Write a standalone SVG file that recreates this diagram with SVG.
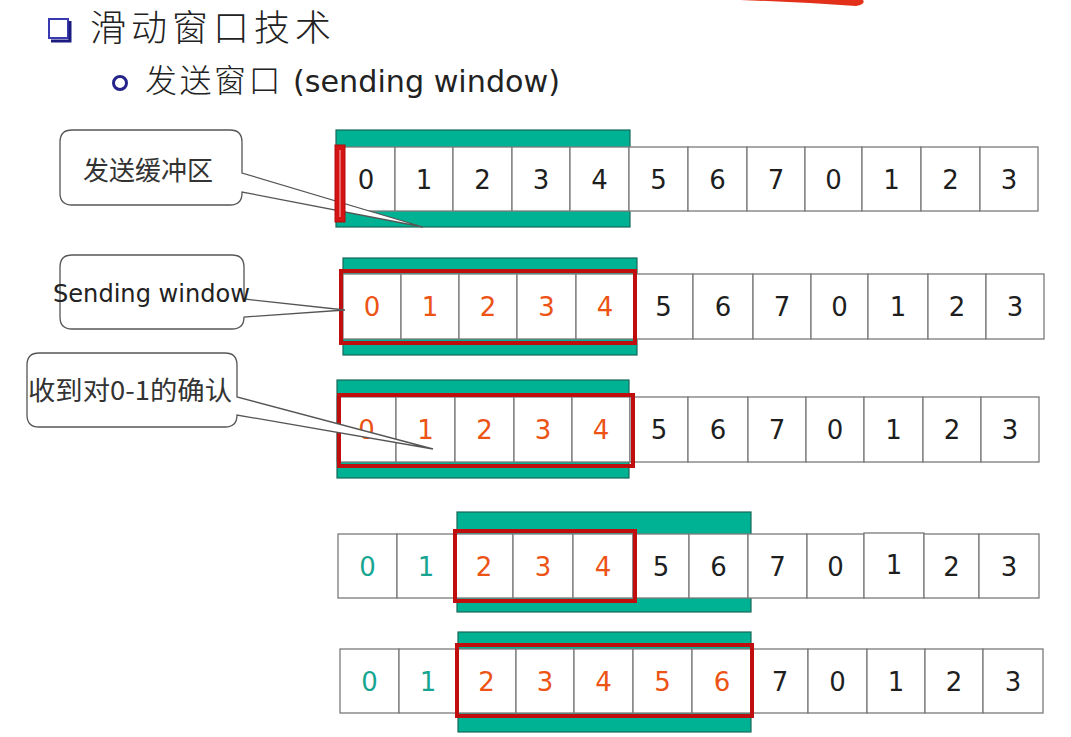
<svg xmlns="http://www.w3.org/2000/svg" width="1071" height="737" viewBox="0 0 1071 737">
<style>
.cell{fill:#fff;stroke:#7a7a7a;stroke-width:1.3}
.teal{fill:#00b294;stroke:#17695a;stroke-width:1.2}
.win{fill:none;stroke:#c00d0d;stroke-width:4}
.d{font-family:"DejaVu Sans","Liberation Sans",sans-serif;font-size:26px;text-anchor:middle}
.k{fill:#1e1e1e}
.o{fill:#ec5314}
.t{fill:#17a591}
.call{fill:#fff;stroke:#555;stroke-width:1.3}
.ct{font-family:"Noto Sans CJK SC","DejaVu Sans",sans-serif;font-size:26px;fill:#333}
.title{font-family:"Noto Sans CJK SC",sans-serif;fill:#222;font-weight:300}
</style>
<rect width="1071" height="737" fill="#fff"/>
<path d="M740,0 Q800,2 856,6 Q866,4 863,0 Z" fill="#e3301a"/>

<g id="title">
<rect x="49" y="19" width="19" height="19" fill="#fff" stroke="#3a3ab0" stroke-width="2"/>
<path d="M70,21 V41 H51" fill="none" stroke="#1c1c80" stroke-width="3"/>
<text class="title" x="90" y="41" font-size="36" letter-spacing="5">滑动窗口技术</text>
</g>
<g id="subtitle">
<circle cx="120" cy="83" r="6.5" fill="#fff" stroke="#23238a" stroke-width="3"/>
<text class="title" x="145" y="92" font-size="32" letter-spacing="2.5">发送窗口</text>
<text x="293" y="92" font-family="DejaVu Sans,sans-serif" font-size="30" fill="#222" textLength="267" lengthAdjust="spacingAndGlyphs">(sending window)</text>
</g>

<g id="row1">
<rect class="teal" x="336" y="130" width="294" height="97"/>
<rect class="cell" x="337" y="147" width="58" height="64"/><rect class="cell" x="395" y="147" width="58" height="64"/><rect class="cell" x="453" y="147" width="59" height="64"/><rect class="cell" x="512" y="147" width="58" height="64"/><rect class="cell" x="570" y="147" width="59" height="64"/><rect class="cell" x="629" y="147" width="59" height="64"/><rect class="cell" x="688" y="147" width="59" height="64"/><rect class="cell" x="747" y="147" width="58" height="64"/><rect class="cell" x="805" y="147" width="57" height="64"/><rect class="cell" x="862" y="147" width="59" height="64"/><rect class="cell" x="921" y="147" width="59" height="64"/><rect class="cell" x="980" y="147" width="58" height="64"/>
<g class="d k">
<text x="366" y="189">0</text><text x="424" y="189">1</text><text x="482.5" y="189">2</text><text x="541" y="189">3</text><text x="599.5" y="189">4</text><text x="658.5" y="189">5</text><text x="717.5" y="189">6</text><text x="776" y="189">7</text><text x="833.5" y="189">0</text><text x="891.5" y="189">1</text><text x="950.5" y="189">2</text><text x="1009" y="189">3</text>
</g>
</g>

<g id="row2">
<rect class="teal" x="343" y="258" width="294" height="97"/>
<rect class="cell" x="343" y="274" width="58" height="65"/><rect class="cell" x="401" y="274" width="58" height="65"/><rect class="cell" x="459" y="274" width="58" height="65"/><rect class="cell" x="517" y="274" width="59" height="65"/><rect class="cell" x="576" y="274" width="58" height="65"/><rect class="cell" x="634" y="274" width="59" height="65"/><rect class="cell" x="693" y="274" width="60" height="65"/><rect class="cell" x="753" y="274" width="58" height="65"/><rect class="cell" x="811" y="274" width="57" height="65"/><rect class="cell" x="868" y="274" width="60" height="65"/><rect class="cell" x="928" y="274" width="58" height="65"/><rect class="cell" x="986" y="274" width="58" height="65"/>
<g class="d o">
<text x="372" y="316">0</text><text x="430" y="316">1</text><text x="488" y="316">2</text><text x="546.5" y="316">3</text><text x="605" y="316">4</text>
</g>
<g class="d k">
<text x="663.5" y="316">5</text><text x="723" y="316">6</text><text x="782" y="316">7</text><text x="839.5" y="316">0</text><text x="898" y="316">1</text><text x="957" y="316">2</text><text x="1015" y="316">3</text>
</g>
<rect class="win" x="341" y="271" width="294" height="72"/>
</g>

<g id="row3">
<rect class="teal" x="337" y="380" width="292" height="98"/>
<rect class="cell" x="337" y="397" width="59" height="65"/><rect class="cell" x="396" y="397" width="59" height="65"/><rect class="cell" x="455" y="397" width="59" height="65"/><rect class="cell" x="514" y="397" width="58" height="65"/><rect class="cell" x="572" y="397" width="58" height="65"/><rect class="cell" x="630" y="397" width="58" height="65"/><rect class="cell" x="688" y="397" width="60" height="65"/><rect class="cell" x="748" y="397" width="58" height="65"/><rect class="cell" x="806" y="397" width="58" height="65"/><rect class="cell" x="864" y="397" width="59" height="65"/><rect class="cell" x="923" y="397" width="58" height="65"/><rect class="cell" x="981" y="397" width="58" height="65"/>
<g class="d o">
<text x="366.5" y="439">0</text><text x="425.5" y="439">1</text><text x="484.5" y="439">2</text><text x="543" y="439">3</text><text x="601" y="439">4</text>
</g>
<g class="d k">
<text x="659" y="439">5</text><text x="718" y="439">6</text><text x="777" y="439">7</text><text x="835" y="439">0</text><text x="893.5" y="439">1</text><text x="952" y="439">2</text><text x="1010" y="439">3</text>
</g>
<rect class="win" x="339" y="395" width="294" height="71"/>
</g>

<g id="row4">
<rect class="teal" x="457" y="512" width="294" height="100"/>
<rect class="cell" x="338" y="534" width="59" height="64"/><rect class="cell" x="397" y="534" width="58" height="64"/><rect class="cell" x="455" y="534" width="58" height="64"/><rect class="cell" x="513" y="534" width="60" height="64"/><rect class="cell" x="573" y="534" width="60" height="64"/><rect class="cell" x="633" y="534" width="56" height="64"/><rect class="cell" x="689" y="534" width="59" height="64"/><rect class="cell" x="748" y="534" width="59" height="64"/><rect class="cell" x="807" y="534" width="57" height="64"/><rect class="cell" x="864" y="533" width="60" height="65"/><rect class="cell" x="924" y="534" width="55" height="64"/><rect class="cell" x="979" y="534" width="60" height="64"/>
<g class="d t"><text x="367.5" y="576">0</text><text x="426" y="576">1</text></g>
<g class="d o"><text x="484" y="576">2</text><text x="543" y="576">3</text><text x="603" y="576">4</text></g>
<g class="d k">
<text x="661" y="576">5</text><text x="718.5" y="576">6</text><text x="777.5" y="576">7</text><text x="835.5" y="576">0</text><text x="894" y="574">1</text><text x="951.5" y="576">2</text><text x="1009" y="576">3</text>
</g>
<rect class="win" x="455" y="531" width="180" height="70"/>
</g>

<g id="row5">
<rect class="teal" x="458" y="632" width="293" height="100"/>
<rect class="cell" x="340" y="649" width="59" height="64"/><rect class="cell" x="399" y="649" width="58" height="64"/><rect class="cell" x="457" y="649" width="59" height="64"/><rect class="cell" x="516" y="649" width="58" height="64"/><rect class="cell" x="574" y="649" width="59" height="64"/><rect class="cell" x="633" y="649" width="59" height="64"/><rect class="cell" x="692" y="649" width="60" height="64"/><rect class="cell" x="752" y="649" width="56" height="64"/><rect class="cell" x="808" y="649" width="59" height="64"/><rect class="cell" x="867" y="649" width="58" height="64"/><rect class="cell" x="925" y="649" width="58" height="64"/><rect class="cell" x="983" y="649" width="60" height="64"/>
<g class="d t"><text x="369.5" y="691">0</text><text x="428" y="691">1</text></g>
<g class="d o"><text x="486.5" y="691">2</text><text x="545" y="691">3</text><text x="603.5" y="691">4</text><text x="662.5" y="691">5</text><text x="722" y="691">6</text></g>
<g class="d k">
<text x="780" y="691">7</text><text x="837.5" y="691">0</text><text x="896" y="691">1</text><text x="954" y="691">2</text><text x="1013" y="691">3</text>
</g>
<rect class="win" x="457" y="645" width="295" height="71"/>
</g>

<g id="callout-buffer">
<path class="call" d="M72,130 H230 Q242,130 242,142 V173 L423,227 L242,192 V193 Q242,205 230,205 H72 Q60,205 60,193 V142 Q60,130 72,130 Z"/>
<text class="ct" x="83" y="180">发送缓冲区</text>
</g>
<g id="buffer-marker">
<rect x="335" y="145" width="10" height="77" fill="#d41414" stroke="#b00c0c" stroke-width="1"/>
<line x1="340" y1="150" x2="340" y2="217" stroke="#f3a0a0" stroke-width="1.2"/>
</g>
<g id="callout-window">
<path class="call" d="M72,255 H232 Q244,255 244,267 V299 L345,310 L244,317 Q244,329 232,329 H72 Q60,329 60,317 V267 Q60,255 72,255 Z"/>
<text x="53" y="302" font-family="DejaVu Sans,sans-serif" font-size="25" fill="#222" textLength="197" lengthAdjust="spacingAndGlyphs">Sending window</text>
</g>
<g id="callout-ack">
<path class="call" d="M39,353 H225 Q237,353 237,365 V397 L433,449 L237,415 Q237,427 225,427 H39 Q27,427 27,415 V365 Q27,353 39,353 Z"/>
<text class="ct" x="28" y="400" font-size="25" textLength="204" lengthAdjust="spacingAndGlyphs">收到对0-1的确认</text>
</g>
<g id="connectors"/>
</svg>
